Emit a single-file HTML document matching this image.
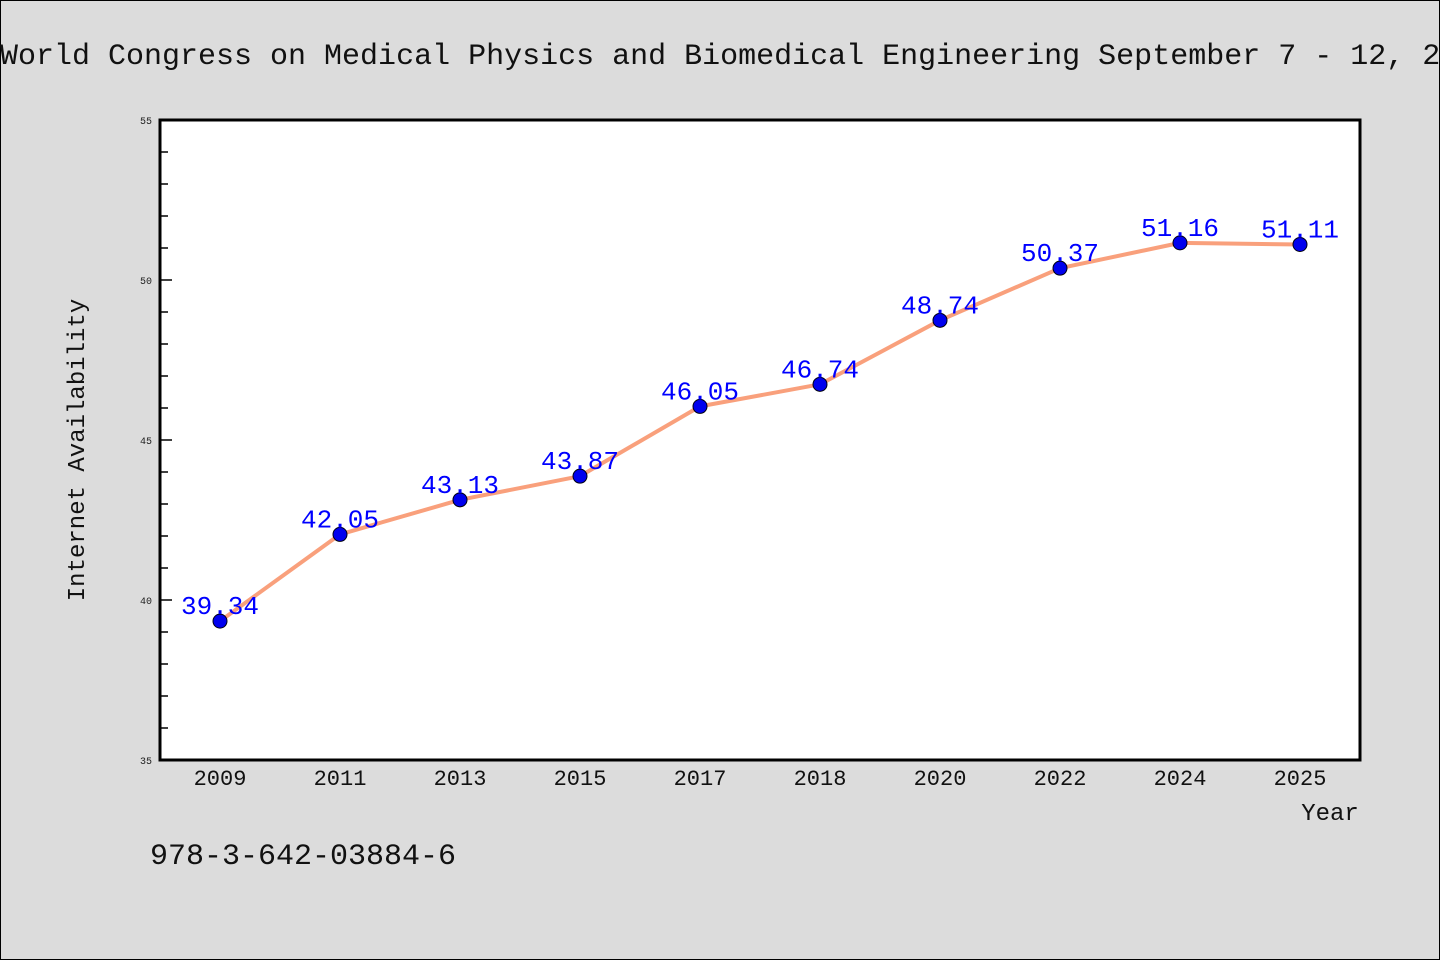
<!DOCTYPE html>
<html><head><meta charset="utf-8"><style>
html,body{margin:0;background:#dcdcdc;overflow:hidden;}
svg{display:block;}
svg text{font-family:"Liberation Mono","WenQuanYi Zen Hei",monospace;}
</style></head><body>
<svg width="1440" height="960" xmlns="http://www.w3.org/2000/svg">
<rect x="0.5" y="0.5" width="1439" height="959" fill="#dcdcdc" stroke="#000" stroke-width="1"/>
<text x="0" y="64" font-size="30" fill="#111" style="white-space:pre">World Congress on Medical Physics and Biomedical Engineering September 7 - 12, 2009 Munich, Germany</text>
<rect x="160" y="120" width="1200" height="640" fill="#fff"/>
<g id="grid"></g>
<g id="series"></g>
<rect x="160" y="120" width="1200" height="640" fill="none" stroke="#000" stroke-width="3"/>
<text x="1330" y="820" font-size="24" text-anchor="middle" fill="#111">Year</text>
<text transform="translate(84,450) rotate(-90)" font-size="24" text-anchor="middle" fill="#111">Internet Availability</text>
<text x="150" y="864" font-size="30" fill="#111">978-3-642-03884-6</text>
</svg>
<script>
const categories=["2009","2011","2013","2015","2017","2018","2020","2022","2024","2025"];
const values=[39.34,42.05,43.13,43.87,46.05,46.74,48.74,50.37,51.16,51.11];
const yTicks=[35,40,45,50,55];
const yMin=35,yMax=55,plotLeft=160,plotRight=1360,plotTop=120,plotBottom=760;
const NS="http://www.w3.org/2000/svg";
function xPos(i){const bw=(plotRight-plotLeft)/categories.length;return plotLeft+bw*i+bw/2;}
function yPos(v){return plotBottom-(v-yMin)/(yMax-yMin)*(plotBottom-plotTop);}
function mk(t,a,p){const e=document.createElementNS(NS,t);for(const k in a)e.setAttribute(k,a[k]);p.appendChild(e);return e;}
const g=document.getElementById('grid'),s=document.getElementById('series');
for(let v=yMin;v<=yMax;v++){
  const major=yTicks.includes(v);
  const t=mk('line',{x1:plotLeft,x2:plotLeft+(major?12:8),y1:yPos(v),y2:yPos(v),stroke:'#000','stroke-width':1.5},g);
  
  
}
yTicks.forEach(v=>{
  const t=mk('text',{x:plotLeft-8,y:yPos(v)+4,'font-size':10,'text-anchor':'end',fill:'#222'},g);
  t.textContent=v;
  
  
});
categories.forEach((c,i)=>{
  const t=mk('text',{x:xPos(i),y:785,'font-size':22,'text-anchor':'middle',fill:'#111'},g);
  t.textContent=c;
  
  
});
const pl=mk('polyline',{points:values.map((v,i)=>xPos(i)+','+yPos(v)).join(' '),fill:'none',stroke:'#f9a07c','stroke-width':4,'stroke-linejoin':'round'},s);


values.forEach((v,i)=>{
  const c=mk('circle',{cx:xPos(i),cy:yPos(v),r:7,fill:'#0000ee',stroke:'#001','stroke-width':1},s);
  
  
  const t=mk('text',{x:xPos(i),y:yPos(v)-7,'font-size':26,'text-anchor':'middle',fill:'#0000ff'},s);
  t.textContent=v.toFixed(2);
  
  
});
</script>
</body></html>
